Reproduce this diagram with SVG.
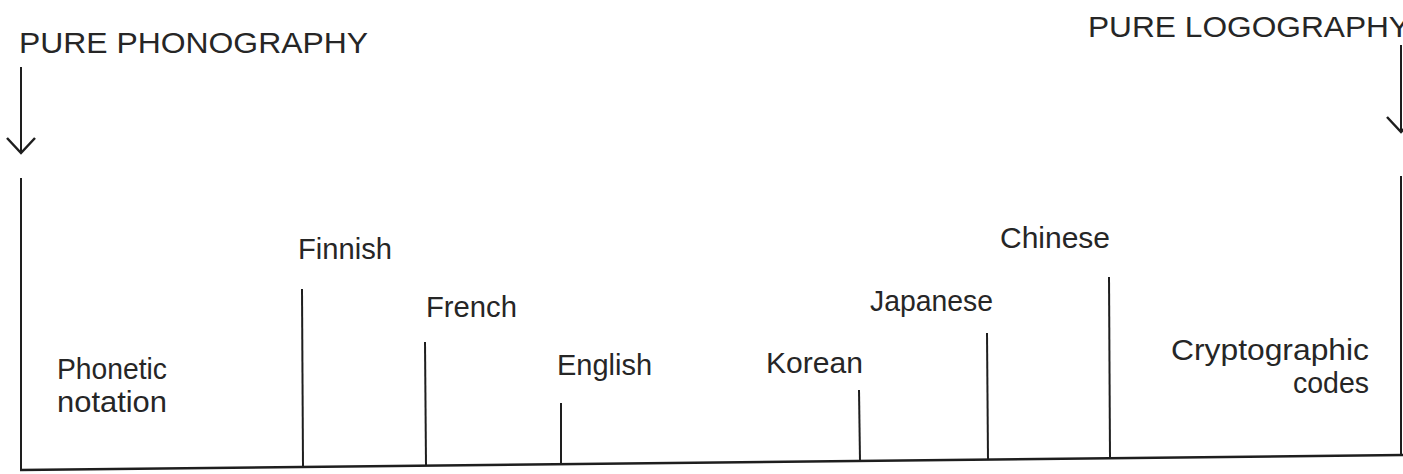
<svg xmlns="http://www.w3.org/2000/svg" width="1403" height="474" viewBox="0 0 1403 474">
  <style>
    .t { font-family: "Liberation Sans", Arial, sans-serif; font-size: 29px; fill: #262626; }
    .h { font-family: "Liberation Sans", Arial, sans-serif; font-size: 29px; fill: #262626; }
    .ln { stroke: #1e1e1e; stroke-width: 2; fill: none; stroke-linecap: butt; }
    .base { stroke: #1e1e1e; stroke-width: 2.5; fill: none; }
  </style>
  <defs>
    <marker id="chev" markerUnits="userSpaceOnUse" markerWidth="40" markerHeight="40" refX="0" refY="0" viewBox="-20 -20 40 40" orient="auto" overflow="visible">
      <path d="M-15,-14 L0,0 L-15,14" fill="none" stroke="#1e1e1e" stroke-width="2.5" stroke-linejoin="miter"/>
    </marker>
  </defs>
  <rect width="1403" height="474" fill="#ffffff"/>

  <g id="heading-left">
    <text class="h" x="19" y="53" textLength="349" lengthAdjust="spacingAndGlyphs">PURE PHONOGRAPHY</text>
  </g>
  <g id="heading-right">
    <text class="h" x="1088" y="37" textLength="322" lengthAdjust="spacingAndGlyphs">PURE LOGOGRAPHY</text>
  </g>

  <g id="connectors">
    <line class="ln" x1="21" y1="67" x2="21" y2="153" marker-end="url(#chev)"/>
    <line class="ln" x1="1401" y1="45" x2="1401" y2="132" marker-end="url(#chev)"/>
    <line class="base" x1="20" y1="470" x2="1403" y2="455"/>
    <line class="ln" x1="21" y1="178" x2="21" y2="470"/>
    <line class="ln" x1="302" y1="289" x2="303" y2="467"/>
    <line class="ln" x1="425" y1="342" x2="426" y2="466"/>
    <line class="ln" x1="561" y1="403" x2="561" y2="464"/>
    <line class="ln" x1="859" y1="390" x2="860" y2="461"/>
    <line class="ln" x1="987" y1="333" x2="988" y2="460"/>
    <line class="ln" x1="1109" y1="277" x2="1110" y2="458"/>
    <line class="ln" x1="1401" y1="176" x2="1401" y2="455"/>
  </g>

  <g id="node-phonetic">
    <text class="t" x="57" y="379" textLength="110" lengthAdjust="spacingAndGlyphs">Phonetic</text>
    <text class="t" x="57" y="412" textLength="110" lengthAdjust="spacingAndGlyphs">notation</text>
  </g>
  <g id="node-finnish">
    <text class="t" x="298" y="259" textLength="94" lengthAdjust="spacingAndGlyphs">Finnish</text>
  </g>
  <g id="node-french">
    <text class="t" x="426" y="317" textLength="91" lengthAdjust="spacingAndGlyphs">French</text>
  </g>
  <g id="node-english">
    <text class="t" x="557" y="375" textLength="95" lengthAdjust="spacingAndGlyphs">English</text>
  </g>
  <g id="node-korean">
    <text class="t" x="766" y="373" textLength="97" lengthAdjust="spacingAndGlyphs">Korean</text>
  </g>
  <g id="node-japanese">
    <text class="t" x="870" y="311" textLength="123" lengthAdjust="spacingAndGlyphs">Japanese</text>
  </g>
  <g id="node-chinese">
    <text class="t" x="1000" y="248" textLength="110" lengthAdjust="spacingAndGlyphs">Chinese</text>
  </g>
  <g id="node-cryptographic">
    <text class="t" x="1171" y="360" textLength="198" lengthAdjust="spacingAndGlyphs">Cryptographic</text>
    <text class="t" x="1293" y="393" textLength="76" lengthAdjust="spacingAndGlyphs">codes</text>
  </g>
</svg>
